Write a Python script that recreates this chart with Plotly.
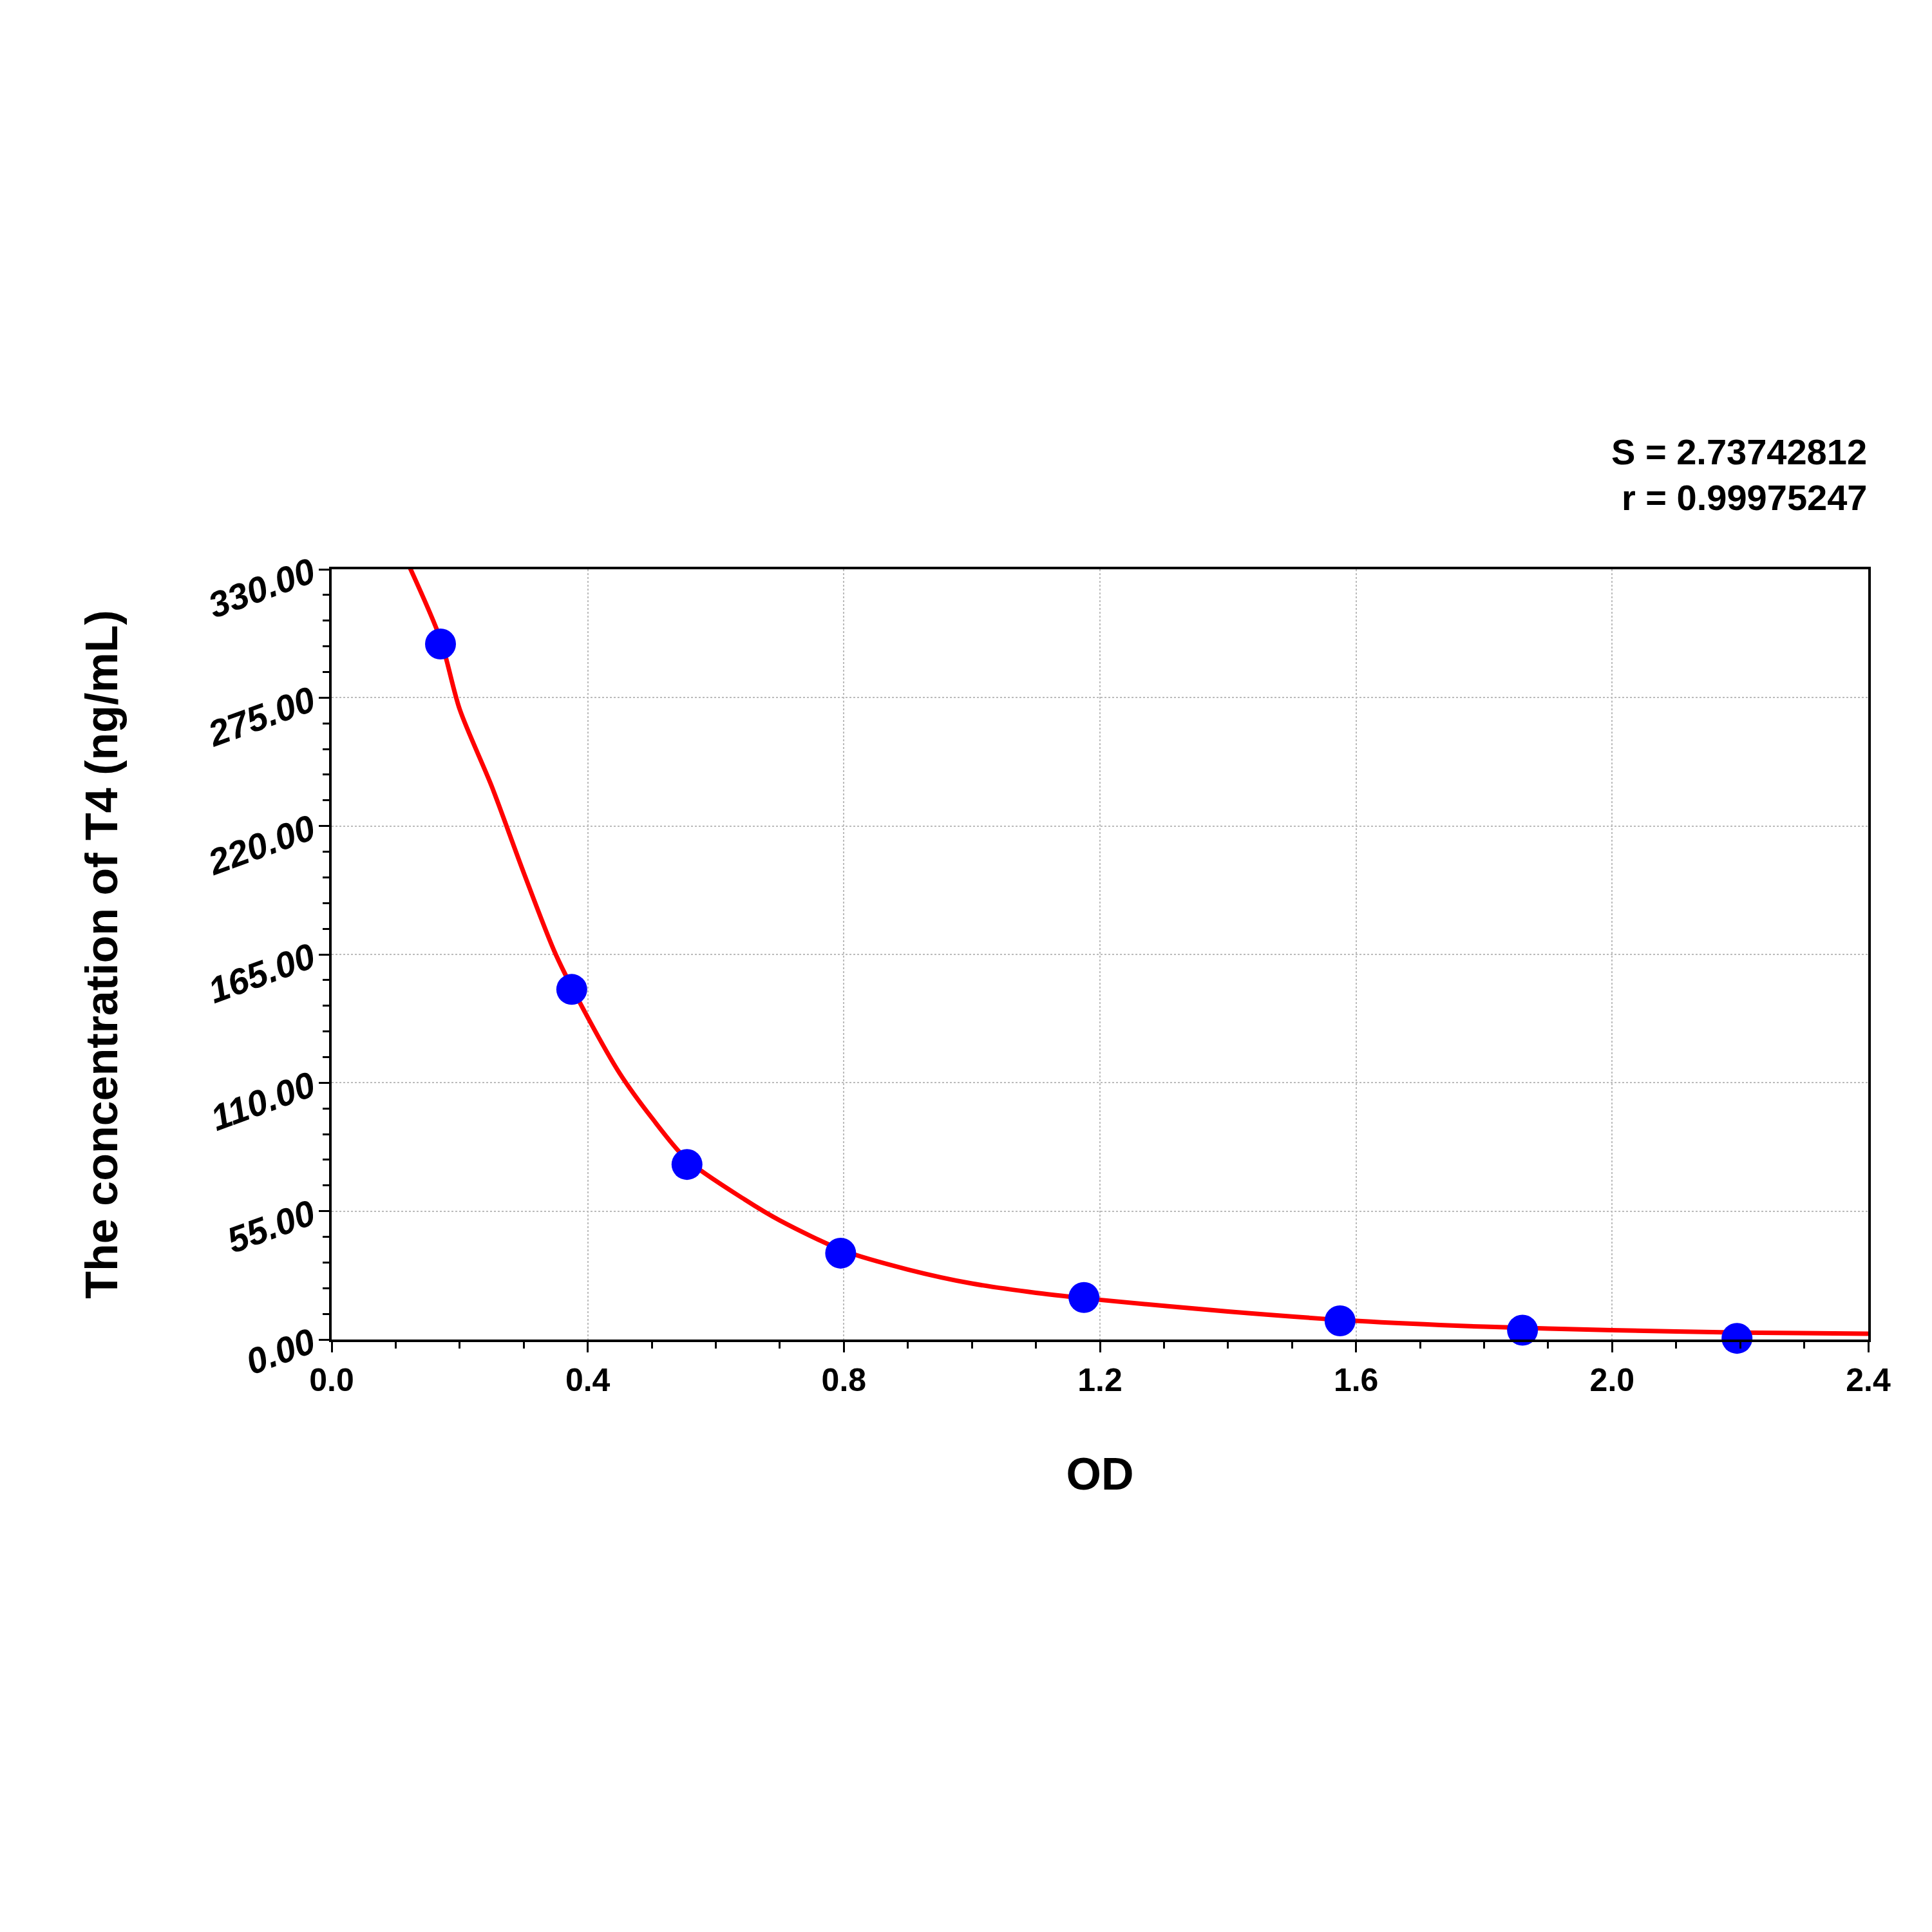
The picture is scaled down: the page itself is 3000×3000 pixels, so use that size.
import plotly.graph_objects as go

od_points = [0.17, 0.375, 0.555, 0.795, 1.175, 1.575, 1.86, 2.195]
conc_points = [298, 150, 75, 37, 18, 8, 4, 0.5]

curve_od = [0.12, 0.17, 0.2, 0.25, 0.3, 0.35, 0.4, 0.45, 0.5, 0.555, 0.645, 0.7, 0.8, 0.9, 1.0, 1.1, 1.2, 1.4, 1.6, 1.8, 2.0, 2.2, 2.4]
curve_conc = [332, 300, 270, 237, 200, 165, 138, 114, 95, 77, 60, 51, 38, 30, 24, 20, 17, 12, 8, 5.5, 4, 3, 2.5]

y_ticks = [0, 55, 110, 165, 220, 275, 330]
y_labels = ["0.00", "55.00", "110.00", "165.00", "220.00", "275.00", "330.00"]

font = "Liberation Sans, Arial, sans-serif"
fig = go.Figure()
fig.add_trace(go.Scatter(x=curve_od, y=curve_conc, mode="lines",
                         line=dict(color="#ff0000", width=7, shape="spline", smoothing=0.8), cliponaxis=False))
fig.add_trace(go.Scatter(x=od_points, y=conc_points, mode="markers",
                         marker=dict(color="#0000ff", size=48), cliponaxis=False))

axis_common = dict(showline=True, linecolor="black", linewidth=4, mirror=True,
                   ticks="outside", ticklen=16, tickwidth=3, tickcolor="black",
                   showgrid=True, gridcolor="#bbbbbb", griddash="dot", gridwidth=2,
                   zeroline=False)
fig.update_xaxes(range=[0, 2.4], tickvals=[0, 0.4, 0.8, 1.2, 1.6, 2.0, 2.4],
                 ticktext=["0.0", "0.4", "0.8", "1.2", "1.6", "2.0", "2.4"],
                 tickfont=dict(family=font, size=50, color="black", weight="bold"),
                 minor=dict(dtick=0.1, ticks="outside", ticklen=10, tickwidth=3, tickcolor="black", showgrid=False),
                 title=dict(text="<b>OD</b>", font=dict(family=font, size=70, color="black"), standoff=95),
                 **axis_common)
fig.update_yaxes(range=[0, 330], tickvals=y_ticks, ticktext=["<i>"+t+"</i>" for t in y_labels],
                 tickangle=-20,
                 tickfont=dict(family=font, size=56, color="black", weight="bold"),
                 minor=dict(dtick=11, ticks="outside", ticklen=10, tickwidth=3, tickcolor="black", showgrid=False),
                 title=dict(text="<b>The concentration of T4 (ng/mL)</b>", font=dict(family=font, size=70, color="black"), standoff=110),
                 **axis_common)
fig.add_annotation(xref="paper", yref="paper", x=1.0, y=1.125, xanchor="right", yanchor="bottom",
                   text="<b>S = 2.73742812</b>", showarrow=False, font=dict(family=font, size=56, color="black"))
fig.add_annotation(xref="paper", yref="paper", x=1.0, y=1.065, xanchor="right", yanchor="bottom",
                   text="<b>r = 0.99975247</b>", showarrow=False, font=dict(family=font, size=56, color="black"))
fig.update_layout(width=3000, height=3000, plot_bgcolor="white", paper_bgcolor="white",
                  showlegend=False, margin=dict(l=507, r=107, t=876, b=928))
fig.write_html("out.html")
